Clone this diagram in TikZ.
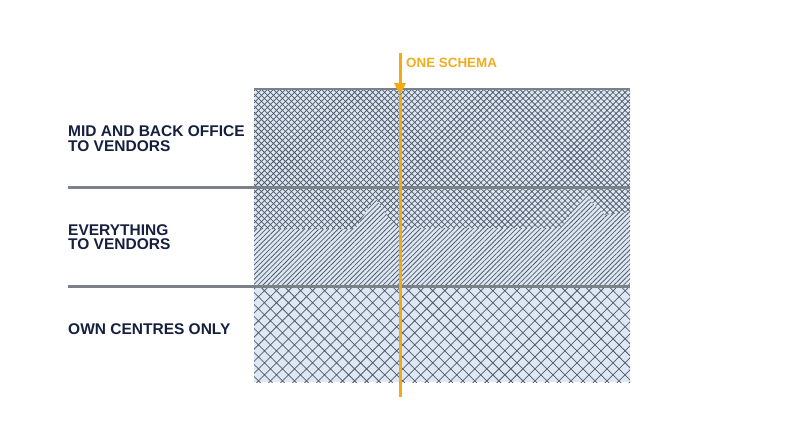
\documentclass[tikz,border=0pt]{standalone}
\usepackage{fontspec}
\setmainfont{Liberation Sans}
\usetikzlibrary{patterns.meta,arrows.meta}
\definecolor{navy}{HTML}{15203F}
\definecolor{gold}{HTML}{F3AA12}
\definecolor{goldtext}{HTML}{EFAE1E}
\definecolor{sepgray}{HTML}{7B8089}
\definecolor{bandblue}{HTML}{DEE8F4}
\definecolor{hatchgray}{HTML}{525B69}
\tikzset{
  rowlabel/.style={anchor=base west, inner sep=0pt, align=left, text=navy,
    font=\fontsize{15.5}{14.4}\selectfont\bfseries},
  sepline/.style={draw=sepgray, line width=3pt},
  fineX/.style={pattern={Hatch[angle=45,distance=4.25pt,line width=0.75pt]}, pattern color=hatchgray},
  wideX/.style={pattern={Hatch[angle=45,distance=8.5pt,line width=0.75pt]}, pattern color=hatchgray},
  diagL/.style={pattern={Lines[angle=45,distance=3.4pt,line width=0.8pt]}, pattern color=hatchgray},
  goldline/.style={draw=gold, line width=3pt}
}
\begin{document}
\begin{tikzpicture}[x=1pt,y=-1pt]
\useasboundingbox (0,0) rectangle (800,447);
\fill[white] (0,0) rectangle (800,447);
% band backgrounds
\fill[bandblue] (254,89) rectangle (630,382);
% top band
\fill[fineX] (254,89) rectangle (630,187);
% middle band: crosshatch upper part, diagonal lines lower part
\fill[fineX] (254,187) -- (630,187) -- (630,212) -- (605,215) -- (585,196) -- (560,228)
  -- (400,228) -- (392,222) -- (375,198) -- (355,229) -- (254,229) -- cycle;
\fill[diagL] (254,229) -- (355,229) -- (375,198) -- (392,222) -- (400,228) -- (560,228)
  -- (585,196) -- (605,215) -- (630,212) -- (630,286) -- (254,286) -- cycle;
% bottom band
\fill[wideX] (254,286) rectangle (630,382);
% lines
\coordinate (topL) at (254,89);
\coordinate (topR) at (630,89);
\coordinate (s1L) at (68,187);
\coordinate (s1R) at (630,187);
\coordinate (s2L) at (68,286);
\coordinate (s2R) at (630,286);
\draw[draw=sepgray, line width=2pt] (topL) -- (topR);
\draw[sepline] (s1L) -- (s1R);
\draw[sepline] (s2L) -- (s2R);
% labels (base anchor = last line's baseline)
\node[rowlabel] (mid) at (68,151) {MID AND BACK OFFICE\\TO VENDORS};
\node[rowlabel] (every) at (68,249.5) {EVERYTHING\\TO VENDORS};
\node[rowlabel] (own) at (68,334) {OWN CENTRES ONLY};
% schema arrow
\coordinate (arrTop) at (400,53);
\coordinate (arrTip) at (400,95);
\coordinate (arrBot) at (400,397);
\draw[goldline] (arrTip) -- (arrBot);
\draw[goldline, -{Triangle[length=12pt,width=11pt]}] (arrTop) -- (arrTip);
\node[anchor=base west, inner sep=0pt, text=goldtext,
  font=\fontsize{13.4}{15}\selectfont\bfseries] (schema) at (406,67.5) {ONE SCHEMA};
\end{tikzpicture}
\end{document}
